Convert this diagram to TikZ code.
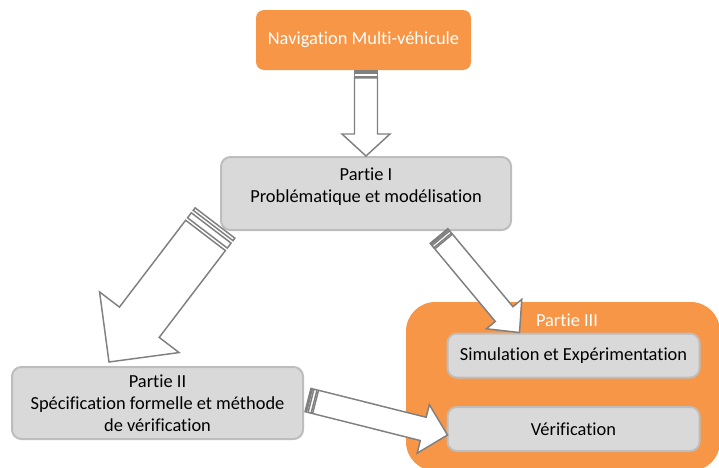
\documentclass[tikz,border=0pt]{standalone}
\usepackage{fontspec}
\setmainfont{Carlito}[Ligatures=NoCommon]
\usetikzlibrary{calc}

\definecolor{orangebox}{HTML}{F79646}
\definecolor{greyfill}{HTML}{D9D9D9}
\definecolor{greyline}{HTML}{BDBDBD}
\definecolor{arrowgrey}{HTML}{808080}

\tikzset{
    orangenode/.style={fill=orangebox, rounded corners=6pt, text=white, minimum width=161.25pt, minimum height=45pt},
    greybox/.style={fill=greyfill, draw=greyline, line width=1.5pt, rounded corners=7pt},
    arrowline/.style={draw=arrowgrey, fill=white, line width=1.1pt, line join=miter},
}

% tail, tip, shaft half width, head half width, head length (px)
\newcommand\stripedarrow[5]{
    \pgfmathsetmacro\arSw{#3*0.75}
    \pgfmathsetmacro\arHw{#4*0.75}
    \pgfmathsetmacro\arHl{#5*0.75}
    \pgfmathsetmacro\arA{#4*1.5/32}
    \pgfmathsetmacro\arB{#4*1.5/16}
    \pgfmathsetmacro\arC{#4*1.5/8}
    \pgfmathsetmacro\arD{#4*1.5*5/32}
    \coordinate (s1) at ($(#1)!\arA pt!(#2)$);
    \coordinate (s2) at ($(#1)!\arB pt!(#2)$);
    \coordinate (s3) at ($(#1)!\arC pt!(#2)$);
    \coordinate (s4) at ($(#1)!\arD pt!(#2)$);
    \coordinate (hb) at ($(#2)!\arHl pt!(#1)$);
    \draw[arrowline] ($(#1)!\arSw pt!90:(#2)$) -- ($(s1)!\arSw pt!90:(#2)$) -- ($(s1)!\arSw pt!-90:(#2)$) -- ($(#1)!\arSw pt!-90:(#2)$) -- cycle;
    \draw[arrowline] ($(s2)!\arSw pt!90:(#2)$) -- ($(s3)!\arSw pt!90:(#2)$) -- ($(s3)!\arSw pt!-90:(#2)$) -- ($(s2)!\arSw pt!-90:(#2)$) -- cycle;
    \draw[arrowline] ($(s4)!\arSw pt!90:(#2)$) -- ($(hb)!\arSw pt!90:(#2)$) -- ($(hb)!\arHw pt!90:(#2)$) -- (#2)
        -- ($(hb)!\arHw pt!-90:(#2)$) -- ($(hb)!\arSw pt!-90:(#2)$) -- ($(s4)!\arSw pt!-90:(#2)$) -- cycle;
}

\begin{document}
\begin{tikzpicture}[x=0.75pt, y=-0.75pt, font=\fontsize{13.8}{16.5}\selectfont]
            \useasboundingbox (0, 0) rectangle (719, 468);
            \clip (0, 0) rectangle (719, 468);
            \node[orangenode] (nav) at (363.5, 40) {Navigation Multi-véhicule};
            \node[greybox, minimum width=217.5pt, minimum height=54.75pt] (p1) at (366, 193.5) {};
            \node[align=center] (p1txt) at ($(p1.center)+(0, -7)$) {Partie I\\Problématique et modélisation};
            \node[greybox, align=center, minimum width=218.25pt, minimum height=54pt] (p2) at (157.5, 403) {Partie II\\Spécification formelle et méthode\\de vérification};
            \fill[orangebox, rounded corners=22pt] (406, 302) rectangle (720, 471);
            \node[text=white] (p3) at (567, 320) {Partie III};
            \node[greybox, minimum width=189pt, minimum height=33pt] (sim) at (573.5, 355.5) {Simulation et Expérimentation};
            \node[greybox, minimum width=189pt, minimum height=33pt] (ver) at (573.5, 429) {Vérification};

            \coordinate (a1t) at (nav.south -| p1.north);
            \coordinate (a1h) at (p1.north);
            \coordinate (a2t) at ($(p1.south west)+(-5, -8)$);
            \coordinate (a2h) at ($(p2.north west)+(98, -4)$);
            \coordinate (a3t) at ($(p1.south)+(73, 5)$);
            \coordinate (a3h) at ($(sim.north west)+(73, 0)$);
            \coordinate (a4t) at ($(p2.east)+(4, -3)$);
            \coordinate (a4h) at ($(ver.west)+(1, 6)$);
            \stripedarrow{a1t}{a1h}{11.5}{24}{22}
            \stripedarrow{a2t}{a2h}{25}{50}{50}
            \stripedarrow{a3t}{a3h}{11.5}{23}{24}
            \stripedarrow{a4t}{a4h}{12}{25}{25}
        \end{tikzpicture}
\end{document}
